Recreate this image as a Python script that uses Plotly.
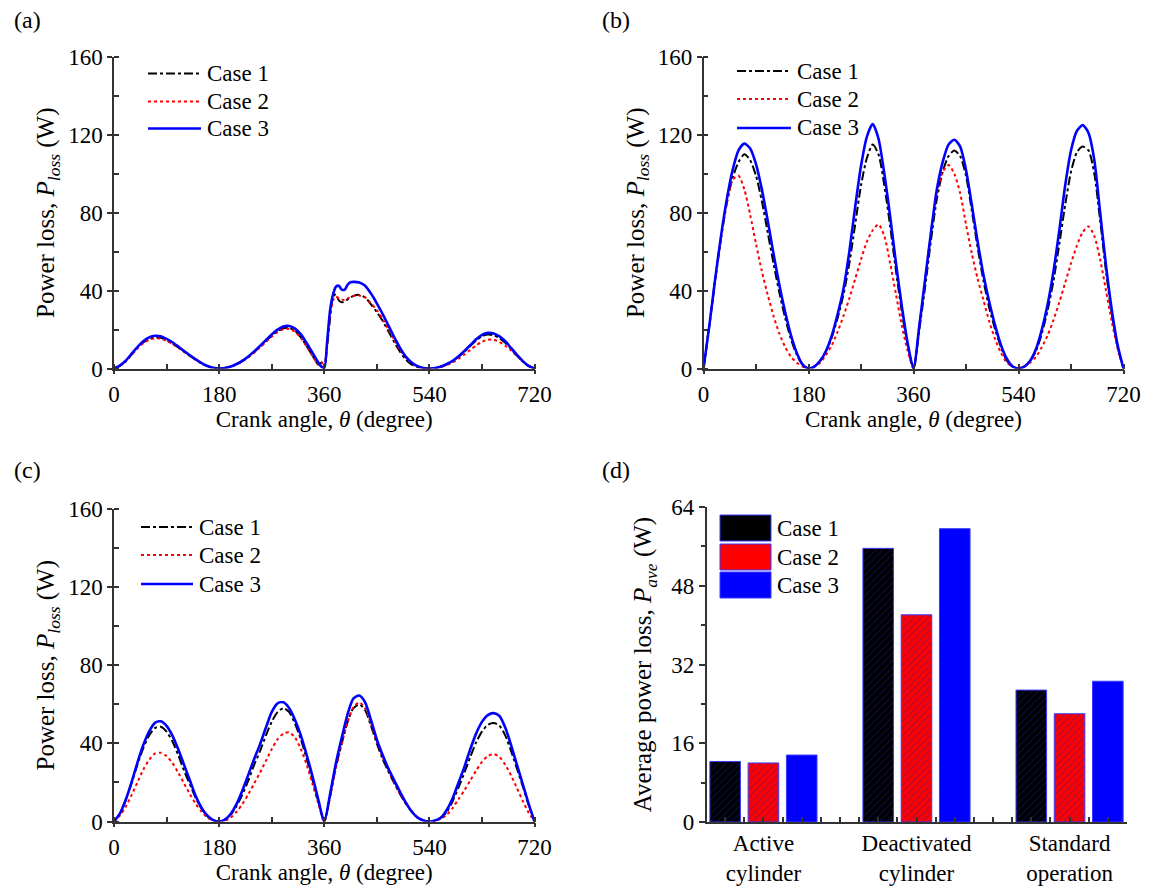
import plotly.graph_objects as go

W, H = 1157, 886
FONT = "Liberation Serif"

# ---------------- data ----------------
theta_a = [0, 10, 20, 30, 40, 50, 60, 70, 80, 90, 100, 110, 120, 130, 140, 150, 160, 170, 180,
           190, 200, 210, 220, 230, 240, 250, 260, 270, 280, 290, 300, 310, 320, 330, 340, 350,
           355, 360, 365, 370, 375, 380, 385, 390, 395, 400, 405, 410,
           420, 430, 440, 450, 460, 470, 480, 490, 500, 510, 520, 530, 540,
           550, 560, 570, 580, 590, 600, 610, 620, 630, 640, 650, 660, 670, 680, 690, 700, 710, 720]

a_case1 = [0, 1.4, 3.8, 7.2, 10.6, 13.4, 15.3, 16, 15.8, 14.6, 12.9, 10.8, 8.6, 6.5, 4.5, 2.7, 1.2, 0.3, 0,
           0.3, 1, 2.2, 3.8, 5.9, 8.4, 11.1, 14, 16.8, 19.2, 20.7, 20.8, 19.3, 16, 11.5, 6.5, 2,
           3, 1, 12, 26, 37, 38, 35, 34, 34.5, 35.5, 36.5, 37.3,
           37.8, 36.5, 33, 29, 24.5, 19, 13.5, 8.5, 4.5, 2, 0.7, 0.2, 0,
           0.3, 1, 2.2, 3.8, 6, 8.6, 11.5, 14.3, 16.5, 17.4, 17.1, 15.6, 13.2, 10, 6.6, 3.6, 1.2, 0]

a_case2 = [0, 1.3, 3.6, 6.9, 10.2, 13, 14.8, 15.5, 15.3, 14.2, 12.6, 10.6, 8.5, 6.4, 4.4, 2.6, 1.2, 0.3, 0,
           0.3, 1, 2.1, 3.7, 5.7, 8.1, 10.8, 13.6, 16.3, 18.7, 20.2, 20.3, 18.8, 15.6, 11.2, 6.3, 2,
           3.5, 1, 12, 27, 35, 37, 36, 35.5, 35, 36, 36.8, 37.3,
           37.5, 36.5, 33.5, 30, 25.5, 20, 14.5, 9.5, 5.5, 2.5, 0.8, 0.2, 0,
           0.2, 0.8, 1.8, 3.2, 5, 7.2, 9.5, 11.8, 13.7, 14.8, 14.8, 13.6, 11.7, 9.2, 6.4, 3.7, 1.4, 0]

a_case3 = [0, 1.5, 4, 7.5, 11, 14, 16, 16.8, 16.5, 15.2, 13.5, 11.3, 9, 6.8, 4.7, 2.8, 1.3, 0.4, 0,
           0.3, 1, 2.3, 4, 6.2, 8.8, 11.6, 14.6, 17.5, 20, 21.6, 21.8, 20.5, 17.5, 13, 8, 3,
           1, 0, 14, 30, 38, 42, 42.5, 40.5, 40.5, 43, 44.3, 44.5,
           44.2, 42.5, 38.5, 33.5, 28, 22, 16, 10.5, 6, 3, 1.2, 0.3, 0,
           0.3, 1, 2.3, 4, 6.3, 9, 12, 15, 17.3, 18.3, 18, 16.5, 14, 10.5, 7, 3.8, 1.3, 0]

theta_bc = list(range(0, 730, 10))

b_case1 = [0, 22, 45, 67, 85, 98, 106, 110, 107, 99, 86, 70, 54, 39, 26, 15, 7, 2, 0,
           1, 4, 9, 16, 26, 38, 54, 74, 94, 108, 115, 110, 94, 73, 50, 29, 12, 0,
           20, 42, 66, 87, 101, 109, 112, 109, 99, 81, 62, 45, 31, 20, 11, 4, 1, 0,
           1, 4, 9, 18, 30, 45, 64, 84, 101, 111, 114, 112, 100, 76, 50, 28, 11, 0]

b_case2 = [0, 22, 46, 67, 85, 97, 99, 92, 79, 64, 50, 38, 27, 18, 11, 6, 3, 1, 0,
           1, 3, 7, 12, 19, 27, 36, 46, 56, 65, 71, 74, 68, 54, 38, 22, 9, 0,
           22, 46, 70, 90, 101, 104.5, 100, 90, 74, 59, 46, 35, 24, 15, 8, 3, 1, 0,
           1, 3, 6, 11, 17, 25, 34, 44, 54, 63, 70, 73, 68, 56, 40, 24, 10, 0]

b_case3 = [0, 22, 46, 68, 87, 102, 112, 115.5, 113, 105, 92, 76, 59, 43, 29, 17, 8, 2, 0,
           1, 4, 9, 17, 28, 41, 60, 83, 104, 119, 125.5, 118, 100, 78, 54, 32, 13, 0,
           22, 46, 70, 92, 106, 115, 117.5, 114, 102, 84, 65, 48, 34, 22, 12, 5, 1, 0,
           1, 4, 10, 20, 33, 50, 71, 94, 112, 122, 125, 121, 107, 80, 53, 30, 12, 0]

c_case1 = [0, 4, 11, 19.5, 29, 37.5, 44, 47.8, 48.5, 46, 41, 34, 26, 19, 12, 6.5, 2.7, 0.6, 0,
           1, 3.5, 8, 14, 21, 29, 36, 44, 51, 56, 58, 56, 50, 42, 32, 21, 10, 0,
           13, 28, 40, 51, 58, 60, 57, 49, 40, 32, 25.5, 19.5, 14, 9, 5, 2, 0.5, 0,
           0.5, 2, 5, 10.5, 17.5, 25, 33, 40.5, 46, 49.5, 50.4, 49, 44, 36, 27, 18, 8.5, 0]

c_case2 = [0, 3, 7.5, 13.5, 20, 26.5, 31.5, 34.8, 35.2, 33.5, 30, 25, 19.5, 14, 9, 5, 2, 0.5, 0,
           0.5, 2, 5, 9, 14, 19.5, 25, 31, 37, 42, 45, 45.6, 43, 37, 29, 19, 9, 0,
           12.5, 27.5, 40, 51, 58.5, 61, 58, 50, 41, 33, 26, 20, 14, 9, 5, 2, 0.5, 0,
           0.3, 1.5, 3.5, 7, 11.5, 16, 21, 26, 30.5, 33.5, 34.5, 33, 29, 23.5, 17, 10.5, 4.5, 0]

c_case3 = [0, 4, 11, 20, 30, 39, 46, 50.5, 51.3, 49, 44, 37, 29, 21, 13, 7, 3, 0.7, 0,
           1, 4, 9, 16, 24, 32, 39.5, 48, 56, 60.5, 61, 58, 52, 44, 34, 23, 11, 0,
           14, 30, 43, 55, 63, 64.5, 61, 52, 42, 34, 27, 21, 15, 9.5, 5, 2, 0.5, 0,
           0.5, 2, 6, 12, 20, 28, 37, 45, 51, 54.5, 55.5, 54, 48, 39, 29, 19, 9, 0]

bar_categories = ["Active<br>cylinder", "Deactivated<br>cylinder", "Standard<br>operation"]
bar_positions = [1, 2, 3]
bar_case1 = [12.3, 55.6, 26.8]
bar_case2 = [12.0, 42.1, 22.0]
bar_case3 = [13.6, 59.6, 28.6]

case_names = ["Case 1", "Case 2", "Case 3"]
line_colors = ["#000000", "#ff0000", "#0000ff"]
line_dashes = ["dashdot", "dot", "solid"]
line_widths = [2, 2, 2.6]

# ---------------- figure ----------------
fig = go.Figure()

panels = [
    ("x", "y", theta_a, [a_case1, a_case2, a_case3]),
    ("x2", "y2", theta_bc, [b_case1, b_case2, b_case3]),
    ("x3", "y3", theta_bc, [c_case1, c_case2, c_case3]),
]
for xa, ya, th, series in panels:
    for k in range(3):
        fig.add_trace(go.Scatter(
            x=th, y=series[k], mode="lines", name=case_names[k],
            xaxis=xa, yaxis=ya, showlegend=False,
            line=dict(color=line_colors[k], dash=line_dashes[k], width=line_widths[k],
                      shape="spline", smoothing=0.7),
        ))

bar_fill = ["#000000", "#ff0000", "#0000ff"]
bar_vals = [bar_case1, bar_case2, bar_case3]
for k in range(3):
    pat = dict(shape="/", fgcolor="#1e1ea8", size=5, solidity=0.18) if k < 2 else dict(shape="")
    fig.add_trace(go.Bar(
        x=bar_positions, y=bar_vals[k], name=case_names[k], xaxis="x4", yaxis="y4",
        offsetgroup=str(k), showlegend=False,
        marker=dict(color=bar_fill[k], line=dict(color="#3a3aff", width=1), pattern=pat),
    ))


def px_x(p):
    return p / W


def px_y(p):
    return 1 - p / H


AX = dict(showline=True, linecolor="#333333", linewidth=1.5, showgrid=False, zeroline=False,
          automargin=False,
          tickfont=dict(family=FONT, size=23, color="#000"), tickcolor="#333333",
          tickwidth=1.5)


def theta_xaxis(dom, anchor):
    return dict(AX, domain=dom, anchor=anchor, range=[0, 720], tickmode="linear", tick0=0, dtick=180,
                ticks="outside", ticklen=4,
                minor=dict(ticks="inside", dtick=90, ticklen=5, tickcolor="#333333", tickwidth=1.5),
                title=dict(text="Crank angle, <i>θ</i> (degree)", font=dict(family=FONT, size=23, color="#000"),
                           standoff=5))


def ploss_yaxis(dom, anchor):
    return dict(AX, domain=dom, anchor=anchor, range=[0, 160], tickmode="linear", tick0=0, dtick=40,
                ticks="outside", ticklen=5,
                minor=dict(ticks="inside", dtick=20, ticklen=5, tickcolor="#333333", tickwidth=1.5),
                title=dict(text="Power loss, <i>P</i><sub><i>loss</i></sub> (W)",
                           font=dict(family=FONT, size=25, color="#000"), standoff=6))


xa_dom = [px_x(114), px_x(534.5)]
xb_dom = [px_x(703.5), px_x(1123.5)]
xd_dom = [px_x(706.5), px_x(1126.5)]
ytop_dom = [px_y(368.5), px_y(57)]
ybot_dom = [px_y(821.5), px_y(509)]
yd_dom = [px_y(822), px_y(507)]

fig.update_layout(
    width=W, height=H,
    margin=dict(l=0, r=0, t=0, b=0),
    paper_bgcolor="white", plot_bgcolor="white",
    font=dict(family=FONT, size=23, color="#000"),
    barmode="group", bargap=0.25, bargroupgap=0.2,
    xaxis=theta_xaxis(xa_dom, "y"),
    yaxis=ploss_yaxis(ytop_dom, "x"),
    xaxis2=theta_xaxis(xb_dom, "y2"),
    yaxis2=ploss_yaxis(ytop_dom, "x2"),
    xaxis3=theta_xaxis(xa_dom, "y3"),
    yaxis3=ploss_yaxis(ybot_dom, "x3"),
    xaxis4=dict(AX, domain=xd_dom, anchor="y4", range=[0.628, 3.372],
                tickmode="array", tickvals=bar_positions, ticktext=bar_categories,
                ticks="inside", ticklen=5,
                minor=dict(ticks="inside", dtick=0.125, tick0=1, ticklen=5, tickcolor="#333333",
                           tickwidth=1.5)),
    yaxis4=dict(AX, domain=yd_dom, anchor="x4", range=[0, 64], tickmode="linear", tick0=0, dtick=16,
                ticks="outside", ticklen=6,
                minor=dict(ticks="outside", dtick=8, ticklen=4, tickcolor="#333333", tickwidth=1.5),
                title=dict(text="Average power loss, <i>P</i><sub><i>ave</i></sub> (W)",
                           font=dict(family=FONT, size=25, color="#000"), standoff=12)),
)

# panel letters
for label, xp, yp in [("(a)", 12, 20), ("(b)", 600, 20), ("(c)", 12, 470), ("(d)", 600, 470)]:
    fig.add_annotation(text=label, x=px_x(xp), y=px_y(yp), xref="paper", yref="paper",
                       xanchor="left", yanchor="middle", showarrow=False,
                       font=dict(family=FONT, size=24, color="#000"))

# legends drawn as layout shapes + labels (line samples and swatches)
line_legends = [  # (line x0, line x1, text x, row centres)
    (148, 201, 205, [73.5, 101.5, 128.5]),
    (737, 791, 795, [71, 99, 128]),
    (141, 193, 197, [527, 555, 584]),
]
for lx0, lx1, tx, rows in line_legends:
    for k, yc in enumerate(rows):
        fig.add_shape(type="line", xref="paper", yref="paper",
                      x0=px_x(lx0), x1=px_x(lx1), y0=px_y(yc), y1=px_y(yc),
                      line=dict(color=line_colors[k], dash=line_dashes[k], width=line_widths[k]))
        fig.add_annotation(text=case_names[k], x=px_x(tx), y=px_y(yc), xref="paper", yref="paper",
                           xanchor="left", yanchor="middle", showarrow=False,
                           font=dict(family=FONT, size=23, color="#000"))

sw_rows = [(515, 541), (544, 570), (572, 598)]
for k, (y0, y1) in enumerate(sw_rows):
    fig.add_shape(type="rect", xref="paper", yref="paper",
                  x0=px_x(720), x1=px_x(771), y0=px_y(y1), y1=px_y(y0),
                  fillcolor=bar_fill[k], line=dict(color="#3a3aff", width=1))
    fig.add_annotation(text=case_names[k], x=px_x(775), y=px_y((y0 + y1) / 2), xref="paper", yref="paper",
                       xanchor="left", yanchor="middle", showarrow=False,
                       font=dict(family=FONT, size=23, color="#000"))

fig.write_html("out.html", config={"displayModeBar": False},
               post_script="document.body.style.margin='0px';")
